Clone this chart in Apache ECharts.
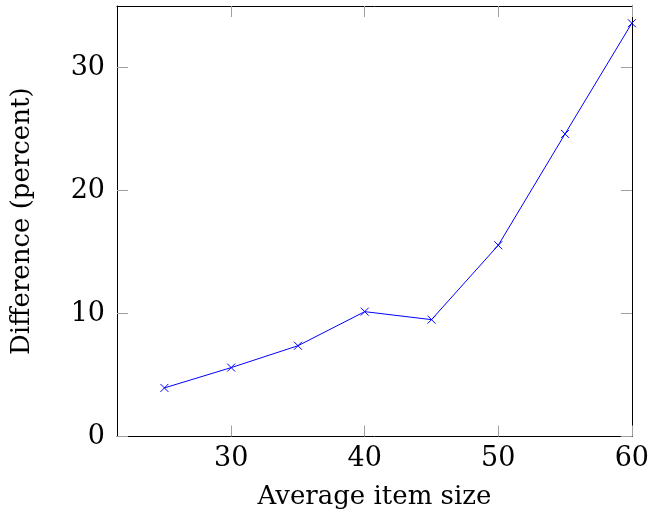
<!DOCTYPE html>
<html>
<head>
<meta charset="utf-8">
<script src="https://cdn.jsdelivr.net/npm/echarts@6/dist/echarts.min.js"></script>
<style>
  html, body { margin: 0; padding: 0; background: #fff; }
  #chart { width: 652px; height: 519px; }
</style>
</head>
<body>
<div id="chart"></div>
<script>
// data
var itemSizes = [25, 30, 35, 40, 45, 50, 55, 60];
var differences = [3.95, 5.6, 7.38, 10.15, 9.5, 15.55, 24.6, 33.6];
var xTicks = [30, 40, 50, 60];
var yTicks = [0, 10, 20, 30];

var points = itemSizes.map(function (x, i) { return [x, differences[i]]; });

var font = 'DejaVu Serif';
var tickGray = '#a0a0a0';

function baseAxis(extra) {
    var a = {
        type: 'value',
        axisLine: { show: true, onZero: false, lineStyle: { color: '#000', width: 1 } },
        axisTick: { show: true, inside: true, length: 11, lineStyle: { color: tickGray, width: 1 } },
        splitLine: { show: false },
        axisLabel: { show: false }
    };
    for (var k in extra) a[k] = extra[k];
    return a;
}

var myChart = echarts.init(document.getElementById('chart'));

var option = {
    animation: false,
    grid: { left: 117, right: 16.5, top: 6, bottom: 82.5, containLabel: false },
    xAxis: [
        baseAxis({
            position: 'bottom',
            min: 21.45, max: 60,
            axisTick: { show: true, inside: true, length: 11, customValues: xTicks, lineStyle: { color: tickGray, width: 1 } },
            axisLabel: {
                show: true, customValues: xTicks, margin: 9,
                fontFamily: font, fontSize: 27, color: '#000'
            },
            name: 'Average item size',
            nameLocation: 'middle',
            nameGap: 48,
            nameTextStyle: { fontFamily: font, fontSize: 26, color: '#000' }
        }),
        baseAxis({
            position: 'top',
            min: 21.45, max: 60,
            axisTick: { show: true, inside: true, length: 11, customValues: xTicks, lineStyle: { color: tickGray, width: 1 } }
        })
    ],
    yAxis: [
        baseAxis({
            position: 'left',
            min: 0, max: 35,
            axisTick: { show: true, inside: true, length: 11, customValues: yTicks, lineStyle: { color: tickGray, width: 1 } },
            axisLabel: {
                show: true, customValues: yTicks, margin: 12,
                fontFamily: font, fontSize: 27, color: '#000'
            },
            name: 'Difference (percent)',
            nameLocation: 'middle',
            nameGap: 82,
            nameTextStyle: { fontFamily: font, fontSize: 26, color: '#000' }
        }),
        baseAxis({
            position: 'right',
            min: 0, max: 35,
            axisTick: { show: true, inside: true, length: 11, customValues: yTicks, lineStyle: { color: tickGray, width: 1 } }
        })
    ],
    series: [{
        type: 'line',
        xAxisIndex: 0,
        yAxisIndex: 0,
        data: points,
        symbol: 'path://M0,0L10,10M10,0L0,10',
        symbolSize: 8,
        showAllSymbol: true,
        lineStyle: { color: '#0000ff', width: 1 },
        itemStyle: { color: 'none', borderColor: '#0000ff', borderWidth: 1 }
    }]
};

myChart.setOption(option);
</script>
</body>
</html>
